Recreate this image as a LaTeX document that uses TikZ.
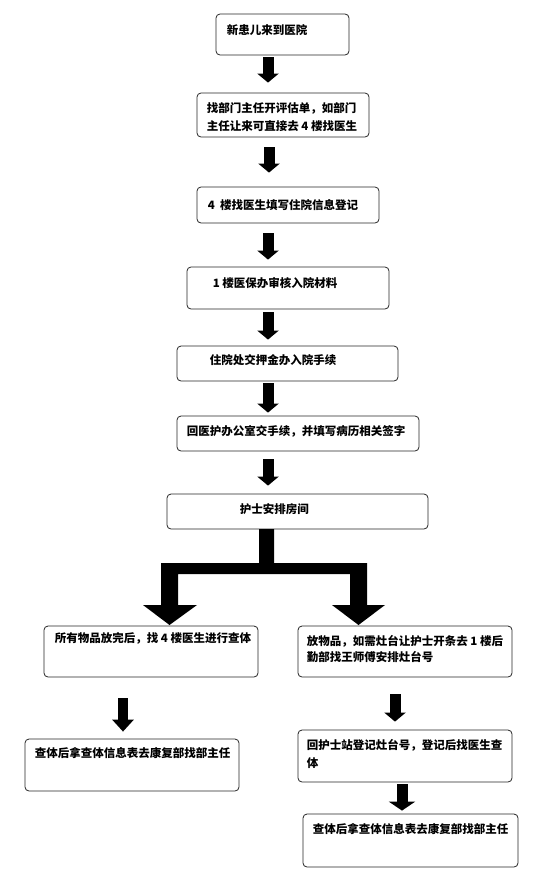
\documentclass[tikz,border=0pt]{standalone}
\usepackage{fontspec}
\setmainfont{Noto Sans CJK SC}
\usetikzlibrary{arrows.meta}
\tikzset{
  box/.style={draw=black!85, line width=0.8pt, rounded corners=4pt, inner sep=0pt},
  txt/.style={anchor=west, inner sep=0pt, align=left, font=\fontsize{11.5}{18}\selectfont\bfseries},
  fat/.style={line width=11pt, -{Triangle[length=9pt,width=21pt]}},
}
\begin{document}
\begin{tikzpicture}[x=1pt,y=-1pt]
  \useasboundingbox (0,0) rectangle (541,873);
  % boxes
  \node[box, minimum width=133pt, minimum height=41pt] (b1) at (282.5,34.5) {};
  \node[box, minimum width=172pt, minimum height=44pt] (b2) at (283,115) {};
  \node[box, minimum width=182pt, minimum height=36pt] (b3) at (288,205) {};
  \node[box, minimum width=202pt, minimum height=42pt] (b4) at (288,288) {};
  \node[box, minimum width=221pt, minimum height=35pt] (b5) at (287.5,363.5) {};
  \node[box, minimum width=242pt, minimum height=35pt] (b6) at (298,433.5) {};
  \node[box, minimum width=261pt, minimum height=35pt] (b7) at (297.5,511.5) {};
  \node[box, minimum width=214pt, minimum height=51pt] (l1) at (151,651.5) {};
  \node[box, minimum width=214pt, minimum height=51pt] (r1) at (405,651.5) {};
  \node[box, minimum width=214pt, minimum height=52pt] (l2) at (132,765) {};
  \node[box, minimum width=214pt, minimum height=52pt] (r2) at (405,756) {};
  \node[box, minimum width=215pt, minimum height=53pt] (r3) at (410.5,840.5) {};
  % texts
  \node[txt] (t1) at ([xshift=11pt,yshift=-16pt]b1.north west) {新患儿来到医院};
  \node[txt] (t2) at ([xshift=10pt,yshift=-24pt]b2.north west) {找部门主任开评估单，如部门\\主任让来可直接去 4 楼找医生};
  \node[txt] (t3) at ([xshift=11pt,yshift=-18pt]b3.north west) {4\ \ 楼找医生填写住院信息登记};
  \node[txt] (t4) at ([xshift=26pt,yshift=-16pt]b4.north west) {1 楼医保办审核入院材料};
  \node[txt] (t5) at ([xshift=33pt,yshift=-14pt]b5.north west) {住院处交押金办入院手续};
  \node[txt] (t6) at ([xshift=10pt,yshift=-16pt]b6.north west) {回医护办公室交手续，并填写病历相关签字};
  \node[txt] (t7) at ([xshift=73pt,yshift=-16pt]b7.north west) {护士安排房间};
  \node[txt] (tl1) at ([xshift=11pt,yshift=-13pt]l1.north west) {所有物品放完后，找 4 楼医生进行查体};
  \node[txt, font=\fontsize{11.5}{16}\selectfont\bfseries] (tr1) at ([xshift=9pt,yshift=-23pt]r1.north west) {放物品，如需灶台让护士开条去 1 楼后\\勤部找王师傅安排灶台号};
  \node[txt] (tl2) at ([xshift=10pt,yshift=-14pt]l2.north west) {查体后拿查体信息表去康复部找部主任};
  \node[txt] (tr2) at ([xshift=9pt,yshift=-24pt]r2.north west) {回护士站登记灶台号，登记后找医生查\\体};
  \node[txt] (tr3) at ([xshift=10pt,yshift=-15pt]r3.north west) {查体后拿查体信息表去康复部找部主任};
  % arrows
  \draw[fat] ([xshift=-14.5pt,yshift=-2pt]b1.south) -- ([xshift=-15pt,yshift=10pt]b2.north);
  \draw[fat] ([xshift=-14pt,yshift=-10pt]b2.south) -- ([xshift=-19pt,yshift=14pt]b3.north);
  \draw[fat] ([xshift=-20pt,yshift=-10pt]b3.south) -- ([xshift=-20pt,yshift=7pt]b4.north);
  \draw[fat] ([xshift=-20pt,yshift=-3pt]b4.south) -- ([xshift=-19.5pt,yshift=6pt]b5.north);
  \draw[fat] ([xshift=-19.5pt,yshift=-2pt]b5.south) -- ([xshift=-30pt,yshift=3pt]b6.north);
  \draw[fat] ([xshift=-30pt,yshift=-8pt]b6.south) -- ([xshift=-29.5pt,yshift=8pt]b7.north);
  \fill (259,529) -- (274,529) -- (274,563) -- (367,563) -- (367,605) -- (385,605)
    -- (358.5,625) -- (332,605) -- (350,605) -- (350,574) -- (178,574) -- (178,605)
    -- (197,605) -- (169.5,625) -- (143,605) -- (161,605) -- (161,563) -- (259,563) -- cycle;
  \draw[fat, line width=10pt, -{Triangle[length=12pt,width=21pt]}] ([xshift=-28pt,yshift=-21pt]l1.south) -- ([xshift=-9pt,yshift=7pt]l2.north);
  \draw[fat] ([xshift=-10pt,yshift=-17pt]r1.south) -- ([xshift=-10pt,yshift=8pt]r2.north);
  \draw[fat, -{Triangle[length=9pt,width=26pt]}] ([xshift=-3pt,yshift=-2pt]r2.south) -- ([xshift=-8.5pt,yshift=3pt]r3.north);
\end{tikzpicture}
\end{document}
